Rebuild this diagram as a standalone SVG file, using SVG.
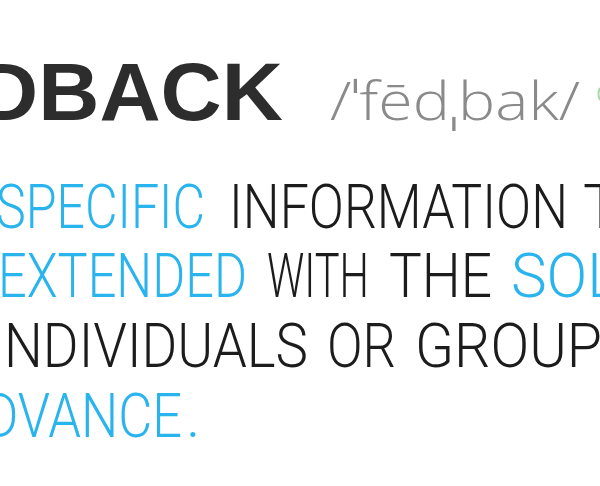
<svg xmlns="http://www.w3.org/2000/svg" width="600" height="486" viewBox="0 0 600 486">
<style>
.title{font-family:"Liberation Sans","Noto Sans",sans-serif;font-weight:700;font-size:81px;fill:#2d2d2d}
.pron{font-family:"Open Sans","Noto Sans",sans-serif;font-weight:300;font-size:54px;fill:#8a8a8a}
.body{font-family:Roboto,"Open Sans","Liberation Sans",sans-serif;font-weight:300;font-size:61px}
.blue{fill:#2ab4ee}
.dark{fill:#1c1c1c}
</style>
<rect width="600" height="486" fill="#ffffff"/>
<g id="title">
<text class="title" x="-23" y="120" textLength="306" lengthAdjust="spacingAndGlyphs">DBACK</text>
</g>
<g id="pronunciation">
<text class="pron" x="330" y="120" textLength="250" lengthAdjust="spacingAndGlyphs">/ˈfēdˌbak/</text>
<path d="M600,88 Q597,94 600,100" fill="none" stroke="#a6d9a6" stroke-width="2"/>
</g>
<g id="line1">
<text class="body blue" x="-4" y="228" textLength="209" lengthAdjust="spacingAndGlyphs">SPECIFIC</text>
<text class="body dark" x="229" y="228" textLength="339" lengthAdjust="spacingAndGlyphs">INFORMATION</text>
<text class="body dark" x="583" y="228">T</text>
</g>
<g id="line2">
<text class="body blue" x="-2" y="297" textLength="249" lengthAdjust="spacingAndGlyphs">EXTENDED</text>
<text class="body dark" x="267" y="297" textLength="102" lengthAdjust="spacingAndGlyphs">WITH</text>
<text class="body dark" x="389" y="297" textLength="103" lengthAdjust="spacingAndGlyphs">THE</text>
<text class="body blue" x="511" y="297" textLength="108" lengthAdjust="spacingAndGlyphs">SOL</text>
</g>
<g id="line3">
<text class="body dark" x="4" y="367" textLength="304" lengthAdjust="spacingAndGlyphs">NDIVIDUALS</text>
<text class="body dark" x="327" y="367" textLength="69" lengthAdjust="spacingAndGlyphs">OR</text>
<text class="body dark" x="415" y="367" textLength="187" lengthAdjust="spacingAndGlyphs">GROUP</text>
</g>
<g id="line4">
<text class="body blue" x="-16" y="437" textLength="198" lengthAdjust="spacingAndGlyphs">DVANCE</text>
<text class="body blue" x="186" y="437">.</text>
</g>
</svg>
